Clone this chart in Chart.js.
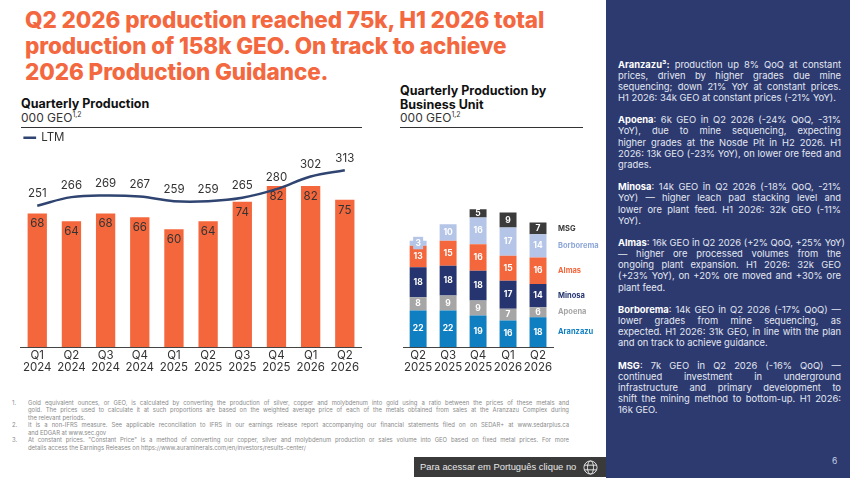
<!DOCTYPE html>
<html>
<head>
<meta charset="utf-8">
<script src="https://cdn.jsdelivr.net/npm/chart.js@4"></script>
<style>
html,body{margin:0;padding:0;background:#fff;}
body{width:850px;height:478px;position:relative;overflow:hidden;font-family:Inter,sans-serif;color:#222;}
.abs{position:absolute;}
canvas{position:absolute;}
#title{left:25px;top:7px;font-size:22.5px;line-height:26.2px;font-weight:800;color:#f4683f;white-space:nowrap;letter-spacing:-.1px;}
.head{font-size:12.5px;line-height:14px;font-weight:700;color:#111;white-space:nowrap;}
.unit{font-size:12px;line-height:14px;color:#333;white-space:nowrap;}
.unit sup{font-size:7px;line-height:0;}
.rule{height:1px;background:#333;}
#panel{left:606px;top:0;width:244px;height:478px;background:#2c3a70;}
#notes{left:618px;top:58.5px;width:223px;font-size:9.4px;line-height:11.15px;color:#e4e8f2;}
#notes .para{margin:0 0 11.15px 0;}
#notes b{color:#fff;}
.j{text-align:justify;text-align-last:justify;white-space:nowrap;}
#foot{left:12px;top:399px;width:557px;font-size:5.9px;line-height:7.45px;color:#8a8a8a;}
#foot .n{position:absolute;left:0;}
#foot .t{margin-left:16px;}
#badge{left:414px;top:457px;width:192px;height:20px;background:#3a3a3a;color:#e8e8e8;font:9.4px/20px "Liberation Sans",sans-serif;white-space:nowrap;}
#badge span{margin-left:6px;}
#badge svg{position:absolute;left:169px;top:3px;}
#page{left:832px;top:456px;font-size:8.5px;color:#c9cfe0;}
</style>
</head>
<body>
<div id="title" class="abs">Q2 2026 production reached 75k, H1 2026 total<br>production of 158k GEO. On track to achieve<br>2026 Production Guidance.</div>

<div class="abs head" style="left:21px;top:97px;">Quarterly Production</div>
<div class="abs unit" style="left:21px;top:111px;">000 GEO<sup>1,2</sup></div>
<div class="abs rule" style="left:21px;top:127px;width:341px;"></div>

<div class="abs head" style="left:400px;top:84px;">Quarterly Production by<br>Business Unit</div>
<div class="abs unit" style="left:400px;top:111px;">000 GEO<sup>1,2</sup></div>
<div class="abs rule" style="left:400px;top:127px;width:183px;"></div>

<canvas id="prodChart" width="342" height="250" style="left:20px;top:128px;"></canvas>
<canvas id="unitChart" width="209" height="250" style="left:401px;top:128px;"></canvas>

<div id="foot" class="abs">
<div class="n">1.</div><div class="t"><div class="j">Gold equivalent ounces, or GEO, is calculated by converting the production of silver, copper and molybdenum into gold using a ratio between the prices of these metals and</div><div class="j">gold. The prices used to calculate it at such proportions are based on the weighted average price of each of the metals obtained from sales at the Aranzazu Complex during</div><div>the relevant periods.</div></div>
<div class="n">2.</div><div class="t"><div class="j">It is a non-IFRS measure. See applicable reconciliation to IFRS in our earnings release report accompanying our financial statements filed on on SEDAR+ at www.sedarplus.ca</div><div>and EDGAR at www.sec.gov</div></div>
<div class="n">3.</div><div class="t"><div class="j">At constant prices. "Constant Price" is a method of converting our copper, silver and molybdenum production or sales volume into GEO based on fixed metal prices. For more</div><div>details access the Earnings Releases on https://www.auraminerals.com/en/investors/results-center/</div></div>
</div>

<div id="badge" class="abs"><span>Para acessar em Português clique no</span>
<svg width="15" height="15" viewBox="0 0 16 16" fill="none" stroke="#e8e8e8" stroke-width="1"><circle cx="8" cy="8" r="7"/><ellipse cx="8" cy="8" rx="3.2" ry="7"/><path d="M1.5 5.5h13M1.5 10.5h13"/></svg></div>

<div id="panel" class="abs"></div>
<div id="notes" class="abs">
<div class="para"><div class="j"><b>Aranzazu³:</b> production up 8% QoQ at constant</div><div class="j">prices, driven by higher grades due mine</div><div class="j">sequencing; down 21% YoY at constant prices.</div><div>H1 2026: 34k GEO at constant prices (-21% YoY).</div></div>
<div class="para"><div class="j"><b>Apoena</b>: 6k GEO in Q2 2026 (-24% QoQ, -31%</div><div class="j">YoY), due to mine sequencing, expecting</div><div class="j">higher grades at the Nosde Pit in H2 2026. H1</div><div class="j">2026: 13k GEO (-23% YoY), on lower ore feed and</div><div>grades.</div></div>
<div class="para"><div class="j"><b>Minosa</b>: 14k GEO in Q2 2026 (-18% QoQ, -21%</div><div class="j">YoY) — higher leach pad stacking level and</div><div class="j">lower ore plant feed. H1 2026: 32k GEO (-11%</div><div>YoY).</div></div>
<div class="para"><div class="j"><b>Almas</b>: 16k GEO in Q2 2026 (+2% QoQ, +25% YoY)</div><div class="j">— higher ore processed volumes from the</div><div class="j">ongoing plant expansion. H1 2026: 32k GEO</div><div class="j">(+23% YoY), on +20% ore moved and +30% ore</div><div>plant feed.</div></div>
<div class="para"><div class="j"><b>Borborema</b>: 14k GEO in Q2 2026 (-17% QoQ) —</div><div class="j">lower grades from mine sequencing, as</div><div class="j">expected. H1 2026: 31k GEO, in line with the plan</div><div>and on track to achieve guidance.</div></div>
<div class="para"><div class="j"><b>MSG</b>: 7k GEO in Q2 2026 (-16% QoQ) —</div><div class="j">continued investment in underground</div><div class="j">infrastructure and primary development to</div><div class="j">shift the mining method to bottom-up. H1 2026:</div><div>16k GEO.</div></div>
</div>
<div id="page" class="abs">6</div>

<script>
const quarters = [["Q1","2024"],["Q2","2024"],["Q3","2024"],["Q4","2024"],["Q1","2025"],["Q2","2025"],["Q3","2025"],["Q4","2025"],["Q1","2026"],["Q2","2026"]];
const production = [68,64,68,66,60,64,74,82,82,75];
const ltm = [251,266,269,267,259,259,265,280,302,313];

const unitQuarters = [["Q2","2025"],["Q3","2025"],["Q4","2025"],["Q1","2026"],["Q2","2026"]];
const aranzazu = [22,22,19,16,18];
const apoena = [8,9,9,7,6];
const minosa = [18,18,18,17,14];
const almas = [13,15,16,15,16];
const borborema = [3,10,16,17,14];
const msg = [null,null,5,9,7];

const orange = "#f4673c";
const fontFamily = "Inter, sans-serif";

function fixedAxisHeight(scale){
  scale.height = 31;
}

const quarterAxis = {
  grid: {display: false, drawTicks: false},
  border: {color: "#444", width: 1},
  ticks: {color: "#333", font: {family: fontFamily, size: 11.5, lineHeight: 1.03}, padding: 3, maxRotation: 0, autoSkip: false},
  afterFit: fixedAxisHeight
};

//------------------quarterly production---------------------

const productionLabels = {
  id: "productionLabels",
  afterDatasetsDraw(chart){
    let ctx = chart.ctx;
    ctx.save();
    ctx.textAlign = "center";
    ctx.textBaseline = "middle";
    ctx.font = "11.5px " + fontFamily;
    ctx.fillStyle = "#333";
    chart.getDatasetMeta(0).data.forEach((pt, i) => ctx.fillText(ltm[i], pt.x, pt.y - 12));
    chart.getDatasetMeta(1).data.forEach((bar, i) => ctx.fillText(production[i], bar.x, bar.y + 10.5));
    ctx.restore();
  }
};

new Chart(document.getElementById("prodChart"), {
  type: "bar",
  data: {
    labels: quarters,
    datasets: [
      {type: "line", label: "LTM", data: ltm, yAxisID: "y1", borderColor: "#2f4470", borderWidth: 2.5,
       pointRadius: 0, tension: 0.4, order: 0},
      {type: "bar", label: "Production", data: production, backgroundColor: orange, order: 1,
       barPercentage: 1, categoryPercentage: 0.565}
    ]
  },
  options: {
    responsive: false,
    animation: false,
    layout: {padding: 0},
    plugins: {
      tooltip: {enabled: false},
      legend: {
        display: true, align: "start",
        labels: {
          filter: item => item.text === "LTM",
          usePointStyle: true, pointStyle: "line", boxHeight: 9, padding: 4,
          color: "#333", font: {family: fontFamily, size: 11.5}
        }
      }
    },
    scales: {
      x: quarterAxis,
      y: {display: false, min: 0, max: 98.5},
      y1: {display: false, min: 5, max: 342}
    }
  },
  plugins: [productionLabels]
});

//------------------by business unit---------------------

const unitLabels = {
  id: "unitLabels",
  afterDatasetsDraw(chart){
    let ctx = chart.ctx;
    ctx.save();
    ctx.textAlign = "center";
    ctx.textBaseline = "middle";
    chart.data.datasets.forEach((ds, d) => {
      let bars = chart.getDatasetMeta(d).data;
      bars.forEach((bar, i) => {
        if(ds.data[i] === null) return;
        let midY = (bar.y + bar.base) / 2;
        // too thin for its number: the label gets a small box of its own
        if(bar.base - bar.y < 8){
          ctx.fillStyle = ds.backgroundColor;
          ctx.fillRect(bar.x - 5, midY - 6.5, 10, 12.5);
        }
        ctx.font = "bold 8.5px " + fontFamily;
        ctx.fillStyle = "#fff";
        ctx.fillText(ds.data[i], bar.x, midY);
      });
      let last = bars[bars.length - 1];
      ctx.font = "bold 7.5px " + fontFamily;
      ctx.fillStyle = ds.labelColor;
      ctx.textAlign = "left";
      ctx.fillText(ds.label, last.x + 20, (last.y + last.base) / 2);
      ctx.textAlign = "center";
    });
    ctx.restore();
  }
};

function unitDataset(label, data, color, labelColor){
  return {label: label, data: data, backgroundColor: color, labelColor: labelColor || color,
    barPercentage: 1, categoryPercentage: 0.565};
}

new Chart(document.getElementById("unitChart"), {
  type: "bar",
  data: {
    labels: unitQuarters,
    datasets: [
      unitDataset("Aranzazu", aranzazu, "#0f7fc1"),
      unitDataset("Apoena", apoena, "#a6a6a6"),
      unitDataset("Minosa", minosa, "#263570"),
      unitDataset("Almas", almas, orange),
      unitDataset("Borborema", borborema, "#b4c5e7", "#8ea6d8"),
      unitDataset("MSG", msg, "#3b3b3b")
    ]
  },
  options: {
    responsive: false,
    animation: false,
    layout: {padding: {right: 57}},
    plugins: {legend: {display: false}, tooltip: {enabled: false}},
    scales: {
      x: Object.assign({stacked: true}, quarterAxis),
      y: {display: false, stacked: true, min: 0, max: 132}
    }
  },
  plugins: [unitLabels]
});
</script>
</body>
</html>
